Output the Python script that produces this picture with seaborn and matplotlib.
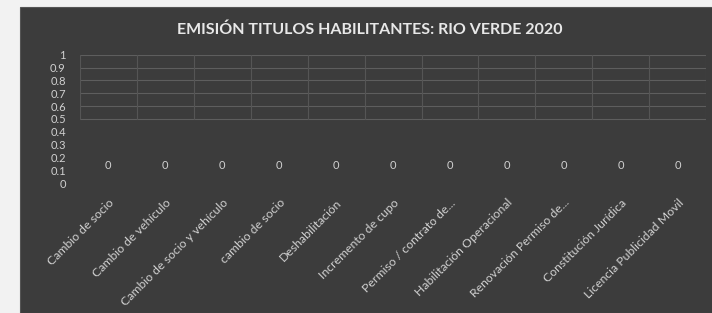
import matplotlib
matplotlib.use("Agg")
import matplotlib.pyplot as plt
import pandas as pd
import seaborn as sns

tramites = ["Cambio de socio", "Cambio de vehículo", "Cambio de socio y vehículo",
            "cambio de socio", "Deshabilitación", "Incremento de cupo",
            "Permiso / contrato de...", "Habilitación Operacional",
            "Renovación Permiso de...", "Constitución Jurídica",
            "Licencia Publicidad Movil"]
emitidos = [0, 0, 0, 0, 0, 0, 0, 0, 0, 0, 0]
y_ticks = [0, 0.1, 0.2, 0.3, 0.4, 0.5, 0.6, 0.7, 0.8, 0.9, 1]

BG = "#3c3c3c"
TXT = "#d0d0d0"

sns.set_style("dark")
plt.rcParams['font.family'] = ['Lato', 'DejaVu Sans']

df = pd.DataFrame({'tramite': tramites, 'emitidos': emitidos})

fig = plt.figure(figsize=(7.12, 3.13), dpi=100, facecolor="#f2f2f2")
# dark chart panel
fig.patches.append(plt.Rectangle((20 / 712, 0), 1, 1 - 7 / 313, transform=fig.transFigure,
                                 facecolor=BG, edgecolor="#555555", lw=0.8, zorder=-10))
ax = fig.add_axes([0.112, 0.415, 0.88, 0.41])
ax.set_facecolor(BG)

sns.barplot(data=df, x='tramite', y='emitidos', color="#5b9bd5", ax=ax,
            linewidth=0, edgecolor="none")
for c in ax.containers:
    ax.bar_label(c, labels=[str(v) for v in emitidos], padding=9, color=TXT, fontsize=8)

ax.set_ylim(0, 1)
ax.set_yticks(y_ticks)
ax.set_yticklabels([f"{t:g}" for t in y_ticks], color=TXT, fontsize=8)
ax.set_xlim(-0.5, len(tramites) - 0.5)
ax.tick_params(axis='y', length=0, pad=10)
ax.tick_params(axis='x', length=0, pad=10)
ax.set_xticks(range(len(tramites)))
ax.set_xticklabels(tramites, rotation=45, ha='right', rotation_mode='anchor',
                   color=TXT, fontsize=8.8)
ax.set_xlabel("")
ax.set_ylabel("")

for t in y_ticks[5:]:
    ax.axhline(t, color="#5e5e5e", lw=0.8, zorder=0)
for i in range(len(tramites) + 1):
    ax.axvline(i - 0.5, ymin=0.5, color="#555555", lw=0.8, zorder=0)
for s in ax.spines.values():
    s.set_visible(False)

fig.text(0.52, 0.905, "EMISIÓN TITULOS HABILITANTES: RIO VERDE 2020",
         ha='center', va='center', color="#e8e8e8", fontsize=11.5, fontweight='bold')

fig.savefig("out.png", dpi=100, facecolor=fig.get_facecolor())
